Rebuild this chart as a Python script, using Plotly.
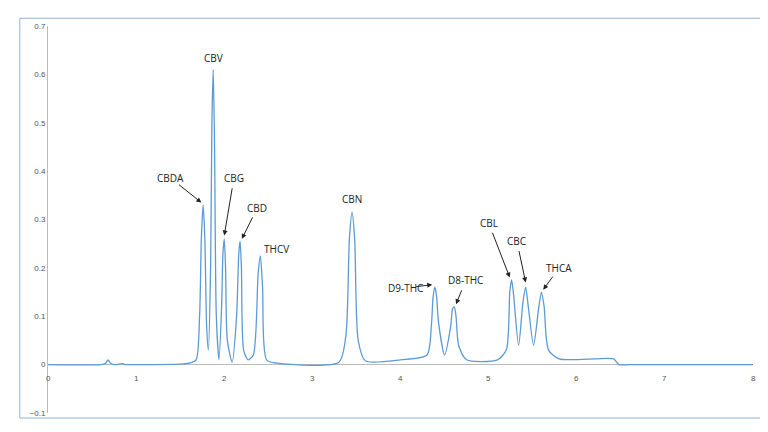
import plotly.graph_objects as go

# retention time (min) and absorbance
rt = [0, 0.6, 0.65, 0.68, 0.71, 0.76, 0.85, 0.87, 0.9,
      1.5, 1.6, 1.68, 1.72, 1.74, 1.76, 1.78, 1.80, 1.82,
      1.845, 1.86, 1.875, 1.89, 1.91, 1.94,
      1.97, 1.985, 2.0, 2.015, 2.035, 2.09,
      2.14, 2.165, 2.18, 2.195, 2.22, 2.27,
      2.33, 2.385, 2.41, 2.435, 2.48, 2.6,
      3.3, 3.38, 3.42, 3.45, 3.48, 3.52, 3.6,
      4.0, 4.3, 4.35, 4.37, 4.39, 4.41, 4.43, 4.5,
      4.57, 4.59, 4.61, 4.63, 4.66, 4.75,
      5.1, 5.2, 5.24, 5.26, 5.28, 5.34,
      5.39, 5.42, 5.45, 5.51,
      5.57, 5.6, 5.63, 5.68, 5.8,
      6.2, 6.35, 6.42, 6.48, 6.6, 8]
signal = [0, 0, 0.002, 0.01, 0.003, 0, 0.002, 0, 0,
          0.001, 0.003, 0.01, 0.1, 0.26, 0.33, 0.26, 0.08, 0.03,
          0.2, 0.5, 0.61, 0.45, 0.1, 0.01,
          0.12, 0.23, 0.26, 0.2, 0.05, 0.005,
          0.1, 0.23, 0.255, 0.2, 0.03, 0.01,
          0.02, 0.19, 0.225, 0.16, 0.01, 0.003,
          0.005, 0.06, 0.26, 0.315, 0.26, 0.05, 0.008,
          0.01, 0.02, 0.08, 0.14, 0.16, 0.14, 0.09, 0.02,
          0.08, 0.115, 0.12, 0.1, 0.04, 0.01,
          0.01, 0.03, 0.15, 0.175, 0.15, 0.04,
          0.13, 0.16, 0.12, 0.04,
          0.12, 0.15, 0.12, 0.03, 0.012,
          0.012, 0.013, 0.012, 0, 0, 0]

labels = ["CBDA", "CBV", "CBG", "CBD", "THCV", "CBN", "D9-THC", "D8-THC", "CBL", "CBC", "THCA"]
label_x = [1.39, 1.875, 2.11, 2.375, 2.59, 3.45, 4.06, 4.74, 5.0, 5.32, 5.8]
label_y = [0.386, 0.634, 0.386, 0.324, 0.238, 0.343, 0.159, 0.174, 0.293, 0.256, 0.2]
arrow_x = [1.74, None, 2.0, 2.2, None, None, 4.36, 4.63, 5.24, 5.42, 5.62]
arrow_y = [0.335, None, 0.267, 0.26, None, None, 0.165, 0.125, 0.18, 0.17, 0.155]

x_ticks = [0, 1, 2, 3, 4, 5, 6, 7, 8]
y_ticks = [-0.1, 0, 0.1, 0.2, 0.3, 0.4, 0.5, 0.6, 0.7]

fig = go.Figure(go.Scatter(x=rt, y=signal, mode="lines",
                           line=dict(color="#5b9bd5", width=1.3, shape="spline", smoothing=0.7)))

ann = []
for t, lx, ly, ax, ay in zip(labels, label_x, label_y, arrow_x, arrow_y):
    if ax is not None:
        ann.append(dict(x=ax, y=ay, ax=lx, ay=ly, axref="x", ayref="y", text="",
                        showarrow=True, arrowhead=2, arrowsize=1, arrowwidth=1,
                        arrowcolor="#222", startstandoff=9))
    ann.append(dict(x=lx, y=ly, text=t, showarrow=False,
                    font=dict(size=10, color="#222", family="Open Sans, Liberation Sans")))
for v in x_ticks:
    ann.append(dict(x=v, y=0, yshift=-14, text=str(v), showarrow=False, font=dict(size=8, color="#555")))

fig.update_layout(
    width=768, height=432, margin=dict(l=40, r=23, t=18, b=27),
    paper_bgcolor="white", plot_bgcolor="white", showlegend=False,
    font=dict(family="Liberation Sans, Arial"),
    xaxis=dict(range=[0, 8], showticklabels=False, showgrid=False, zeroline=False, showline=False,
               ticks="", automargin=False),
    yaxis=dict(range=[-0.1, 0.7], tickvals=y_ticks, tickfont=dict(size=8, color="#555"),
               showgrid=False, zeroline=True, zerolinecolor="#bbb", zerolinewidth=1,
               showline=True, linecolor="#bbb", ticks="", automargin=False),
    annotations=ann,
    shapes=[dict(type="rect", xref="paper", yref="paper", x0=-0.04, x1=1.025, y0=-0.013, y1=1.02,
                 line=dict(color="#8fb4d9", width=1))],
)
fig.write_html("out.html")
